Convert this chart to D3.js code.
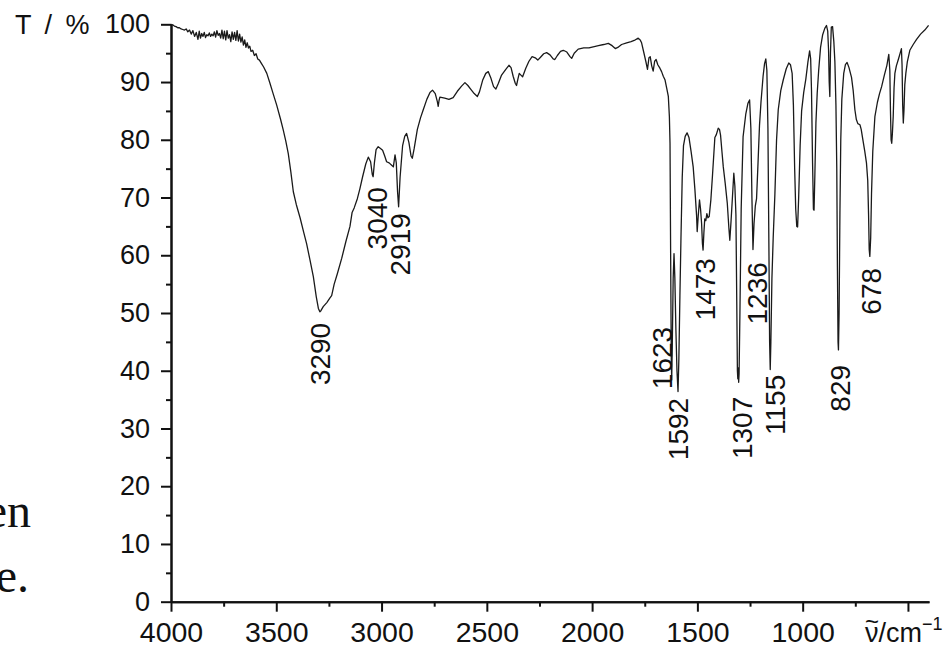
<!DOCTYPE html>
<html>
<head>
<meta charset="utf-8">
<script src="https://cdn.jsdelivr.net/npm/d3@7"></script>
<style>
body { margin:0; background:#fff; }
svg { display:block; }
</style>
</head>
<body>
<svg id="chart" width="944" height="645"></svg>
<script>
// IR spectrum, transmittance vs wavenumber
var wavenumber = [
  4000, 3992, 3984, 3976, 3968, 3960, 3952, 3944, 3936, 3928, 3920, 3912, 3904, 3896, 3888, 3880,
  3872, 3866, 3860, 3854, 3848, 3842, 3836, 3830, 3824, 3818, 3812, 3806, 3800, 3794, 3788, 3782,
  3776, 3770, 3764, 3758, 3752, 3746, 3740, 3734, 3728, 3722, 3716, 3710, 3704, 3698, 3692, 3686,
  3680, 3674, 3668, 3662, 3656, 3650, 3644, 3638, 3632, 3626, 3620, 3612, 3604, 3596, 3588, 3580,
  3570, 3560, 3545, 3530, 3515, 3498, 3480, 3467, 3455, 3443, 3431, 3419, 3405, 3387, 3370, 3356,
  3340, 3324, 3310, 3300, 3293, 3288, 3277, 3260, 3245, 3237, 3225, 3210, 3189, 3170, 3150, 3140,
  3130, 3115, 3103, 3090, 3075, 3063, 3052, 3044, 3040, 3034, 3026, 3016, 3005, 2995, 2985, 2976,
  2964, 2952, 2944, 2936, 2930, 2924, 2919, 2912, 2900, 2890, 2881, 2870, 2860, 2854, 2845, 2830,
  2815, 2802, 2785, 2770, 2758, 2745, 2735, 2731, 2727, 2723, 2700, 2680, 2660, 2640, 2620, 2604,
  2590, 2575, 2560, 2545, 2535, 2520, 2505, 2493, 2480, 2468, 2457, 2445, 2430, 2410, 2395, 2385,
  2375, 2365, 2359, 2352, 2346, 2338, 2330, 2315, 2300, 2285, 2270, 2258, 2245, 2230, 2216, 2200,
  2185, 2177, 2165, 2150, 2137, 2120, 2105, 2097, 2085, 2066, 2040, 2015, 1995, 1970, 1945, 1923,
  1905, 1890, 1878, 1860, 1836, 1815, 1800, 1781, 1772, 1765, 1755, 1745, 1737, 1730, 1724, 1717,
  1710, 1703, 1696, 1688, 1678, 1670, 1662, 1654, 1646, 1638, 1633, 1630, 1627, 1624, 1622, 1619,
  1615, 1611, 1607, 1602, 1597, 1592, 1588, 1583, 1578, 1572, 1566, 1558, 1549, 1540, 1530, 1520,
  1512, 1504, 1501, 1496, 1490, 1485, 1480, 1476, 1473, 1469, 1465, 1460, 1455, 1450, 1444, 1436,
  1428, 1417, 1410, 1401, 1395, 1390, 1383, 1377, 1368, 1358, 1350, 1346, 1340, 1333, 1327, 1322,
  1317, 1313, 1310, 1308, 1306, 1304, 1302, 1298, 1292, 1283, 1270, 1260, 1252, 1246, 1241, 1236,
  1231, 1225, 1219, 1212, 1205, 1198, 1188, 1181, 1175, 1170, 1165, 1160, 1157, 1154, 1151, 1146,
  1140, 1132, 1124, 1116, 1104, 1092, 1078, 1066, 1058, 1050, 1044, 1038, 1033, 1028, 1024, 1019,
  1012, 1005, 995, 985, 975, 967, 962, 958, 953, 949, 946, 942, 937, 931, 924, 915,
  905, 895, 887, 881, 877, 874, 871, 868, 864, 858, 852, 847, 842, 838, 835, 832,
  830, 827, 823, 819, 814, 805, 797, 789, 780, 768, 760, 752, 745, 738, 728, 722,
  714, 705, 697, 691, 687, 684, 681, 677, 673, 667, 657, 645, 635, 625, 612, 600,
  591, 586, 583, 580, 577, 574, 570, 566, 562, 555, 545, 537, 531, 528, 525, 522,
  519, 515, 510, 503, 491, 475, 459, 440, 420, 402
];
var transmittance = [
  100, 99.9, 99.7, 99.6, 99.4, 99.4, 99.2, 99.1, 99.0, 99.2, 98.7, 99.0, 98.3, 98.9, 97.9, 98.6,
  97.4, 98.8, 97.6, 98.4, 97.9, 98.6, 97.7, 98.2, 98.0, 98.5, 97.9, 98.3, 98.0, 98.7, 97.8, 98.9,
  98.1, 98.4, 97.6, 99.0, 97.5, 98.8, 97.3, 98.9, 97.6, 98.2, 97.0, 98.7, 97.4, 98.6, 97.2, 98.9,
  97.1, 98.3, 96.9, 97.8, 96.4, 97.3, 96.0, 96.8, 95.9, 96.2, 95.3, 95.5, 94.6, 94.9, 94.0, 93.8,
  93.2, 92.6, 91.5, 89.8, 88.0, 86.0, 83.6, 81.7, 79.8, 77.6, 74.5, 71.0, 68.8, 66.5, 64.0, 62.0,
  59.2, 56.3, 52.8, 50.8, 50.2, 50.4, 51.1, 51.8, 52.6, 53.0, 55.0, 56.8, 59.5, 62.3, 65.0, 67.4,
  68.2, 69.8, 71.5, 73.6, 75.8, 77.0, 76.2, 74.0, 73.6, 76.0, 78.3, 78.8, 78.5, 78.2, 77.2, 76.2,
  76.0, 75.6, 75.3, 77.4, 76.0, 71.0, 68.4, 73.5, 79.0, 80.6, 81.1, 79.5, 77.2, 76.8, 78.5, 81.8,
  83.8, 85.2, 87.0, 88.2, 88.6, 88.0, 86.6, 85.8, 86.8, 87.4, 87.2, 87.0, 87.3, 88.4, 89.3, 89.9,
  89.4, 88.7, 88.0, 87.5, 88.3, 90.3, 91.5, 91.8, 90.6, 89.2, 88.8, 89.8, 91.2, 92.2, 92.9, 92.5,
  91.0, 89.8, 89.4, 90.6, 91.5, 91.2, 90.9, 92.4, 93.6, 94.4, 94.2, 93.8, 94.3, 94.9, 95.1, 94.7,
  94.0, 93.9, 94.6, 95.3, 95.5, 95.2, 94.4, 94.1, 95.0, 95.7, 95.9, 95.9, 96.1, 96.3, 96.5, 96.7,
  96.3, 95.8, 96.0, 96.5, 96.8, 97.0, 97.2, 97.6, 97.3, 96.8, 95.2, 93.6, 92.2, 94.2, 94.4, 92.8,
  91.9, 93.6, 93.9, 93.0, 92.4, 91.8, 91.0, 90.4, 89.0, 87.5, 84.0, 79.4, 60.0, 42.0, 38.4, 45.0,
  56.0, 60.3, 56.0, 47.0, 40.0, 36.4, 42.0, 53.0, 63.0, 73.5, 79.0, 80.6, 81.2, 80.4, 78.0, 75.3,
  71.5, 67.0, 64.1, 66.8, 69.6, 68.0, 65.5, 62.0, 60.9, 64.0, 66.3, 66.0, 67.2, 66.5, 66.7, 69.6,
  74.0, 80.4, 80.9, 82.0, 81.8, 80.8, 77.8, 75.3, 72.5, 69.0, 64.5, 62.6, 66.0, 70.4, 74.2, 72.0,
  67.0, 52.0, 40.0, 38.6, 40.5, 38.0, 39.5, 50.0, 68.0, 80.5, 84.5, 86.3, 86.9, 82.0, 70.0, 61.0,
  65.5, 68.5, 69.8, 76.0, 82.5, 86.5, 91.0, 93.2, 94.0, 92.0, 82.0, 60.0, 45.0, 40.2, 45.0, 56.0,
  63.0, 70.5, 80.0, 85.2, 88.5, 90.4, 92.3, 93.3, 93.0, 91.5, 86.0, 75.0, 68.0, 65.0, 64.9, 70.0,
  79.0, 85.0, 88.2, 90.5, 93.5, 95.4, 94.0, 88.5, 76.0, 68.0, 67.8, 74.0, 83.0, 88.0, 92.0, 96.0,
  98.2, 99.3, 99.8, 98.8, 95.5, 90.0, 87.5, 95.0, 99.5, 99.6, 97.0, 93.5, 86.0, 75.0, 58.0, 45.0,
  43.6, 50.0, 67.5, 80.0, 87.0, 91.5, 93.0, 93.4, 92.5, 90.8, 88.5, 85.2, 83.5, 82.8, 82.6, 81.8,
  80.0, 78.0, 76.0, 73.0, 67.0, 61.0, 59.8, 63.0, 70.7, 78.0, 84.0, 86.5, 88.0, 89.2, 91.2, 92.9,
  94.8, 92.0, 85.0, 80.0, 79.4, 81.0, 84.0, 89.0, 91.5, 92.8, 94.0, 95.0, 95.8, 93.0, 86.0, 82.9,
  85.0, 89.5, 91.5, 93.5, 95.5, 96.5, 97.4, 98.3, 99.0, 99.8
];

// peak annotations: text, label centre (cm-1), label top end (% T)
var peakLabels = ["3290", "3040", "2919", "1623", "1592", "1473", "1307", "1236", "1155", "829", "678"];
var peakLabelX = [3291, 3020, 2913, 1667, 1591, 1463, 1287, 1216, 1131, 822, 675];
var peakLabelT = [48.3, 71.8, 67.3, 47.6, 35.3, 59.5, 35.5, 58.8, 39.3, 41.0, 57.8];

// ticks
var xTicks = [4000, 3500, 3000, 2500, 2000, 1500, 1000, 500];
var xMinorTicks = [3750, 3250, 2750, 2250, 1750, 1250, 750];
var yTicks = [0, 10, 20, 30, 40, 50, 60, 70, 80, 90, 100];
var yMinorTicks = [5, 15, 25, 35, 45, 55, 65, 75, 85, 95];

var ir = {};
ir.margin = { top:24.3, left:171, right:15, bottom:43.3 };
ir.width = 944 - ir.margin.left - ir.margin.right;
ir.height = 645 - ir.margin.top - ir.margin.bottom;

var svg = d3.select("#chart");
var font = "'Liberation Sans', Arial, sans-serif";

// leftover page text cut by the crop
svg.append("text").attr("x", 31).attr("y", 527)
  .attr("text-anchor", "end")
  .style("font-family", "'Liberation Serif', 'Times New Roman', serif")
  .style("font-size", "48px").attr("fill", "#111").text("en");
svg.append("text").attr("x", 29).attr("y", 592)
  .attr("text-anchor", "end")
  .style("font-family", "'Liberation Serif', 'Times New Roman', serif")
  .style("font-size", "48px").attr("fill", "#111").text("e.");

var g = svg.append("g")
  .attr("transform", "translate(" + ir.margin.left + "," + ir.margin.top + ")");

var x = d3.scaleLinear().domain([4000, 400]).range([0, ir.width]);
var y = d3.scaleLinear().domain([0, 100]).range([ir.height, 0]);

// axes
var xAxis = g.append("g")
  .attr("transform", "translate(0," + ir.height + ")")
  .call(d3.axisBottom(x).tickValues(xTicks).tickSize(10).tickSizeOuter(0)
    .tickFormat(function(d){ return d >= 1000 ? d : ""; }));
g.append("g")
  .attr("transform", "translate(0," + ir.height + ")")
  .call(d3.axisBottom(x).tickValues(xMinorTicks).tickSize(5).tickSizeOuter(0).tickFormat(""));

var yAxis = g.append("g")
  .call(d3.axisLeft(y).tickValues(yTicks).tickSize(10).tickSizeOuter(0).tickPadding(11));
g.append("g")
  .call(d3.axisLeft(y).tickValues(yMinorTicks).tickSize(5).tickSizeOuter(0).tickFormat(""));

g.selectAll(".domain, .tick line").attr("stroke", "#111").attr("stroke-width", 2);
g.selectAll(".tick text").style("font-family", font).style("font-size", "27px").attr("fill", "#111");
xAxis.selectAll(".tick text").style("font-size", "28.5px").attr("dy", null).attr("y", 40.5);

// axis titles
svg.append("text").attr("x", 15).attr("y", ir.margin.top).attr("dy", "0.35em")
  .style("font-family", font).style("font-size", "27px").style("word-spacing", "6px")
  .attr("fill", "#111").text("T / %");

var unit = svg.append("text").attr("x", 865).attr("y", 642)
  .style("font-family", font).style("font-size", "27px").attr("fill", "#111");
unit.append("tspan").text("\u03bd/cm");
unit.append("tspan").attr("dy", -12).style("font-size", "18px").text("\u22121");
svg.append("text").attr("x", 865).attr("y", 630)
  .style("font-family", font).style("font-size", "24px").attr("fill", "#111").text("~");

// spectrum
var spectrum = wavenumber.map(function(v, i){ return { v:v, t:transmittance[i] }; });
var line = d3.line()
  .x(function(d){ return x(d.v); })
  .y(function(d){ return y(d.t); });

g.append("path")
  .datum(spectrum)
  .attr("fill", "none")
  .attr("stroke", "#1a1a1a")
  .attr("stroke-width", 1.3)
  .attr("stroke-linejoin", "round")
  .attr("d", line);

// peak labels, rotated
g.selectAll(".peak")
  .data(peakLabels)
  .enter()
  .append("text")
  .attr("class", "peak")
  .attr("transform", function(d, i){
    return "translate(" + x(peakLabelX[i]) + "," + y(peakLabelT[i]) + ") rotate(-90)";
  })
  .attr("dy", "0.36em")
  .attr("text-anchor", "end")
  .style("font-family", font)
  .style("font-size", "28px")
  .attr("fill", "#111")
  .text(function(d){ return d; });
</script>
</body>
</html>
